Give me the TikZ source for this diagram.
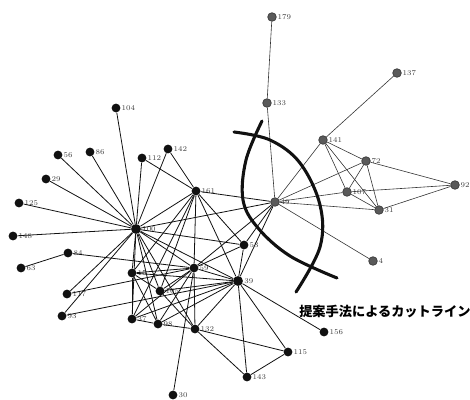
\documentclass[tikz,border=0pt]{standalone}
\usepackage{fontspec}
\newfontfamily\jpfont{Noto Sans CJK JP}
\usepackage{tikz}
\definecolor{ink}{HTML}{111111}
\definecolor{hatch}{HTML}{5A5A5A}

\begin{document}
\begin{tikzpicture}[x=0.75pt,y=-0.75pt,
  dot/.style={circle,fill=ink,inner sep=0pt,minimum size=6.6pt},
  gdot/.style={circle,fill=hatch,draw=ink!80,line width=0.6pt,inner sep=0pt,minimum size=6.4pt},
  lbl/.style={font=\fontsize{5.5}{6}\selectfont,text=ink!80,inner sep=0.6pt},
  edge/.style={draw=ink,line width=0.6pt},
  thin/.style={draw=ink!85,line width=0.45pt},
  cut/.style={draw=ink,line width=2.3pt,line cap=round}]
\useasboundingbox (0,0) rectangle (470,399);
% left group
\node[dot,label={[lbl]right:104}] (n104) at (116,108) {};
\node[dot,label={[lbl]right:56}] (n56) at (58,155) {};
\node[dot,label={[lbl]right:86}] (n86) at (90,152) {};
\node[dot,label={[lbl]right:112}] (n112) at (142,158) {};
\node[dot,label={[lbl]right:142}] (n142) at (168,149) {};
\node[dot,label={[lbl]right:29}] (n29) at (46,179) {};
\node[dot,label={[lbl]right:125}] (n125) at (19,203) {};
\node[dot,label={[lbl]right:148}] (n148) at (13,236) {};
\node[dot,label={[lbl]right:161}] (n161) at (196,191) {};
\node[dot,minimum size=7.4pt,label={[lbl]right:100}] (n100) at (136,229) {};
\node[dot,label={[lbl]right:84}] (n84) at (68,253) {};
\node[dot,label={[lbl]right:63}] (n63) at (21,268) {};
\node[dot,label={[lbl]right:15}] (n15) at (132,273) {};
\node[dot,label={[lbl]right:117}] (n117) at (67,294) {};
\node[dot,label={[lbl]right:93}] (n93) at (62,316) {};
\node[dot,label={[lbl]right:37}] (n37) at (132,319) {};
\node[dot,label={[lbl]right:105}] (n105) at (160,291) {};
\node[dot,label={[lbl]right:59}] (n59) at (194,268) {};
\node[dot,label={[lbl]right:53}] (n53) at (244,245) {};
\node[dot,minimum size=7.4pt,label={[lbl]right:39}] (n39) at (238,281) {};
\node[dot,label={[lbl]right:98}] (n98) at (158,324) {};
\node[dot,label={[lbl]right:132}] (n132) at (195,329) {};
\node[dot,label={[lbl]right:115}] (n115) at (288,352) {};
\node[dot,label={[lbl]right:143}] (n143) at (247,377) {};
\node[dot,label={[lbl]right:156}] (n156) at (324,332) {};
\node[dot,label={[lbl]right:30}] (n30) at (173,395) {};
% right group
\node[gdot,label={[lbl]right:179}] (n179) at (272,17) {};
\node[gdot,label={[lbl]right:133}] (n133) at (267,103) {};
\node[gdot,label={[lbl]right:137}] (n137) at (397,73) {};
\node[gdot,label={[lbl]right:141}] (n141) at (323,140) {};
\node[gdot,label={[lbl]right:72}] (n72) at (366,161) {};
\node[gdot,label={[lbl]right:107}] (n107) at (347,192) {};
\node[gdot,label={[lbl]right:31}] (n31) at (379,210) {};
\node[gdot,label={[lbl,label distance=0pt]right:92}] (n92) at (455,185) {};
\node[gdot,label={[lbl]right:4}] (n4) at (373,261) {};
\node[gdot,label={[lbl]right:49}] (n49) at (275,202) {};

\foreach \a/\b in {100/104,100/56,100/86,100/112,100/142,100/29,100/125,100/148,
  100/117,100/93,100/15,100/37,100/105,100/98,100/59,100/132,100/53,100/161,100/49,100/39,
  161/112,161/142,161/15,161/105,161/59,161/39,161/53,161/49,161/37,
  49/53,49/39,49/59,84/63,84/59,117/59,93/39,
  15/59,15/39,15/105,15/98,15/37,37/98,37/39,37/59,105/59,105/39,105/132,
  59/53,59/39,59/132,59/30,59/98,53/39,
  39/98,39/132,39/143,39/115,39/156,132/98,132/115,132/143,143/115}
  \draw[edge] (n\a) -- (n\b);
\foreach \a/\b in {49/133,133/179,49/141,49/72,49/107,49/31,49/4,
  141/137,141/72,141/107,141/31,72/107,72/31,72/92,107/92,107/31,31/92}
  \draw[thin] (n\a) -- (n\b);

% cut lines
\draw[cut] plot[smooth,tension=0.6] coordinates {(262,121) (246,160) (243,200) (258,228) (290,256) (337,278)};
\draw[cut] plot[smooth,tension=0.6] coordinates {(234,132) (270,140) (300,163) (320,205) (320,247) (296,292)};
\node[anchor=west,inner sep=0pt,font=\jpfont\bfseries\fontsize{9.9}{12}\selectfont] (cap) at (299,312) {提案手法によるカットライン};
\end{tikzpicture}
\end{document}
